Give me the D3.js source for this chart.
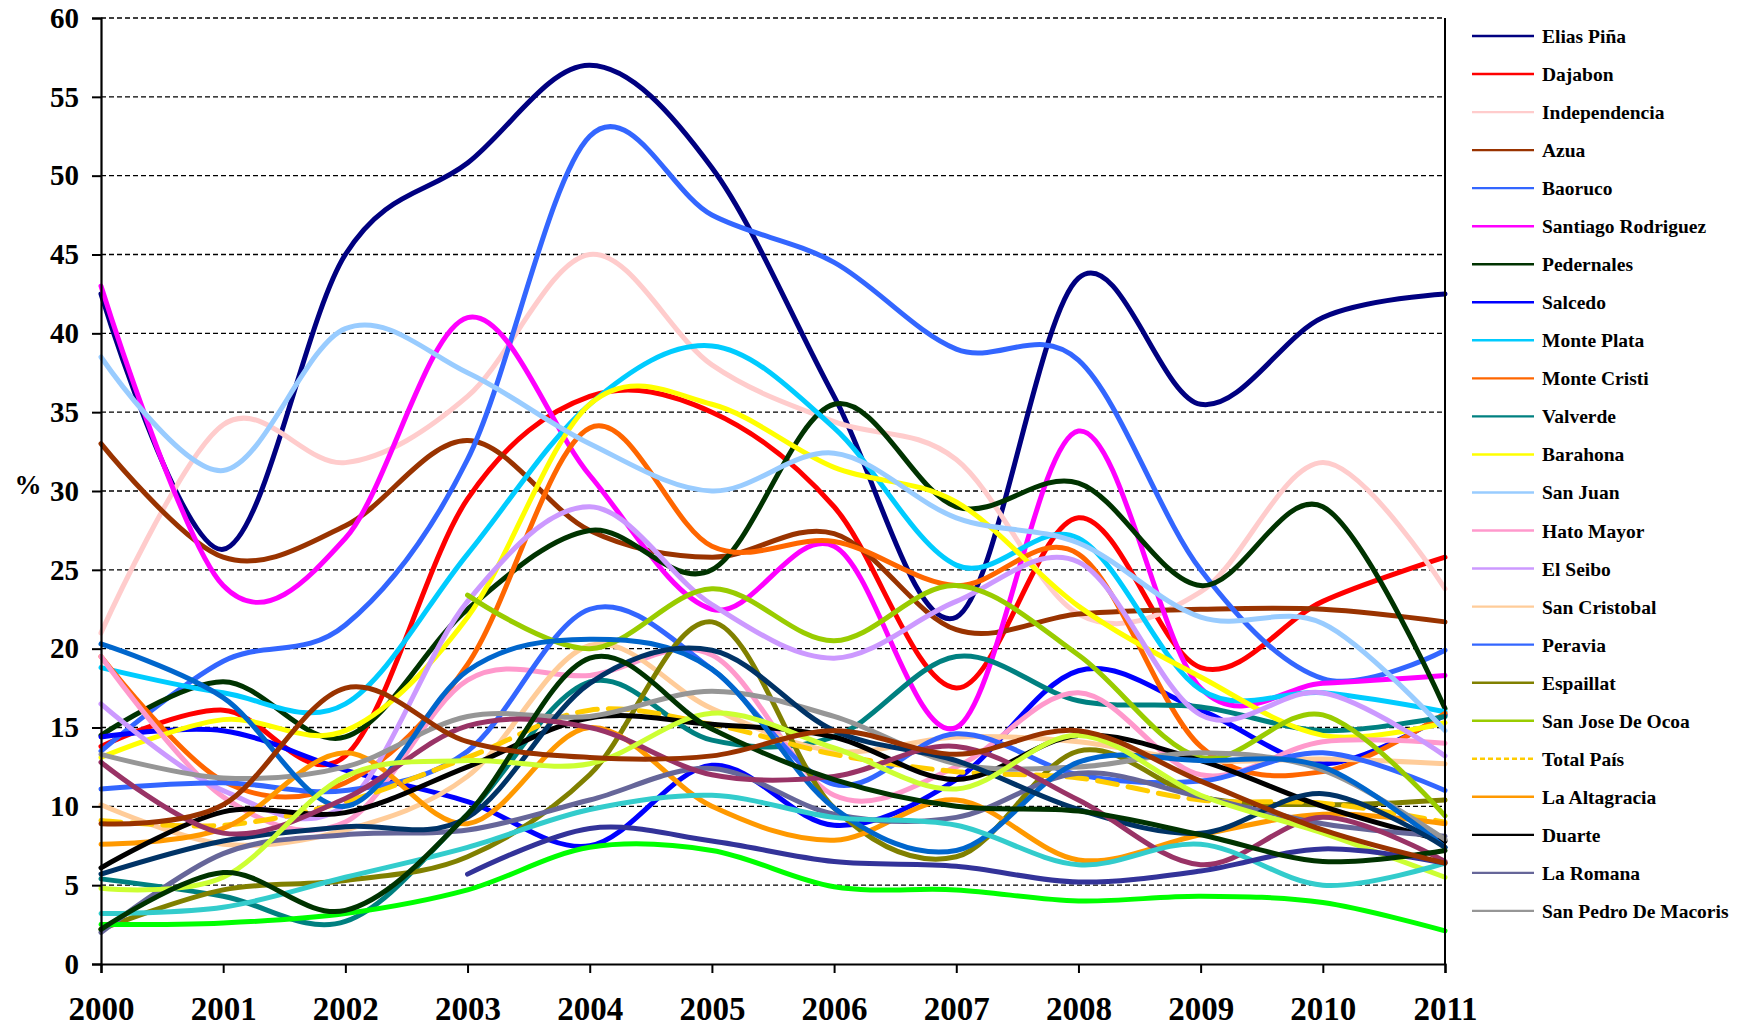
<!DOCTYPE html>
<html>
<head>
<meta charset="utf-8">
<script src="https://cdn.jsdelivr.net/npm/d3@7"></script>
<style>
  html, body { margin: 0; padding: 0; background: #fff; }
  svg { display: block; }
  text { font-family: "Liberation Serif", "Times New Roman", serif; font-weight: bold; fill: #000; }
</style>
</head>
<body>
<svg id="chart" width="1745" height="1028"></svg>
<script>
// Years on the horizontal axis and the percentage ticks on the vertical one
const years = [2000, 2001, 2002, 2003, 2004, 2005, 2006, 2007, 2008, 2009, 2010, 2011];
const yTicks = [0, 5, 10, 15, 20, 25, 30, 35, 40, 45, 50, 55, 60];

// Provinces with their yearly percentage (legend order)
const eliasPina         = [42.5, 26.3, 45.0, 50.8, 57.0, 50.5, 36.0, 22.0, 43.5, 35.5, 41.0, 42.5];
const dajabon           = [13.8, 16.1, 13.2, 29.5, 36.0, 35.0, 29.0, 17.5, 28.3, 18.8, 23.0, 25.8];
const independencia     = [21.0, 34.2, 31.8, 36.0, 45.0, 38.0, 34.4, 32.0, 22.2, 23.6, 31.8, 23.8];
const azua              = [33.0, 25.8, 27.8, 33.2, 27.5, 25.8, 27.3, 21.2, 22.2, 22.5, 22.5, 21.7];
const baoruco           = [13.5, 19.2, 21.5, 32.0, 52.5, 47.5, 44.5, 39.0, 38.3, 25.0, 18.1, 19.9];
const santiagoRodriguez = [43.0, 24.0, 27.0, 41.0, 31.0, 22.5, 26.5, 15.0, 33.8, 17.5, 17.8, 18.3];
const pedernales        = [14.5, 17.9, 14.4, 22.5, 27.5, 25.0, 35.5, 29.0, 30.5, 24.0, 29.0, 16.2];
const salcedo           = [14.4, 14.8, 12.3, 10.3, 7.5, 12.6, 8.8, 11.7, 18.6, 16.1, 12.7, 15.8];
const montePlata        = [18.8, 17.2, 16.5, 26.0, 35.5, 39.2, 34.0, 25.3, 27.0, 17.4, 17.2, 16.0];
const monteCristi       = [19.5, 11.6, 11.5, 19.0, 34.0, 26.5, 26.8, 24.0, 26.0, 13.8, 12.2, 15.9];
const valverde          = [5.4, 4.3, 2.7, 9.5, 17.9, 14.2, 14.4, 19.5, 16.7, 16.3, 14.8, 15.7];
const barahona          = [13.1, 15.5, 14.8, 22.0, 35.5, 35.5, 31.5, 29.3, 22.7, 18.2, 14.5, 15.3];
const sanJuan           = [38.5, 31.3, 40.3, 37.5, 33.0, 30.0, 32.4, 28.3, 26.7, 22.0, 21.6, 14.8];
const hatoMayor         = [19.5, 10.6, 9.0, 18.0, 18.3, 19.6, 10.7, 12.5, 17.2, 12.0, 14.1, 14.0];
const elSeibo           = [16.5, 11.0, 10.1, 23.0, 29.0, 22.8, 19.4, 23.0, 25.5, 15.8, 17.2, 13.2];
const sanCristobal      = [10.1, 7.6, 8.5, 11.9, 20.2, 16.2, 13.5, 14.4, 14.1, 12.9, 13.0, 12.7];
const peravia           = [11.1, 11.5, 11.0, 13.5, 22.5, 18.7, 11.4, 14.6, 12.0, 11.6, 13.4, 11.0];
const espaillat         = [2.2, 4.7, 5.3, 6.8, 12.0, 21.7, 9.9, 6.8, 13.5, 10.6, 10.1, 10.4];
const sanJoseDeOcoa     = [null, null, null, 23.4, 20.0, 23.8, 20.5, 24.0, 19.6, 13.1, 15.8, 9.4];
const totalPais         = [9.1, 8.8, 10.3, 13.1, 16.1, 15.2, 13.3, 12.2, 11.8, 10.4, 10.2, 9.0];
const laAltagracia      = [7.6, 8.6, 13.4, 8.9, 15.0, 10.0, 7.85, 10.4, 6.6, 8.2, 9.5, 8.9];
const duarte            = [6.1, 9.65, 9.6, 12.5, 15.6, 15.2, 14.4, 11.7, 14.5, 12.9, 10.0, 7.8];
const laRomana          = [2.0, 7.0, 8.2, 8.5, 10.4, 12.4, 9.5, 9.3, 12.1, 10.6, 8.9, 8.1];
const sanPedroDeMacoris = [13.3, 11.8, 12.5, 15.7, 15.7, 17.3, 15.7, 12.7, 12.5, 13.4, 12.3, 7.9];

// Further series plotted after the listed ones (they do not fit in the legend box)
const serie25 = [20.3, 16.9, 10.0, 18.6, 20.6, 18.7, 9.9, 7.2, 12.8, 12.9, 12.5, 7.4];
const serie26 = [5.7, 7.8, 8.7, 9.3, 17.8, 19.9, 14.8, 12.9, 9.8, 8.3, 10.8, 7.4];
const serie27 = [12.8, 8.3, 10.5, 15.1, 15.0, 12.0, 11.9, 13.8, 10.4, 6.3, 9.3, 6.5];
const serie28 = [4.8, 5.5, 11.9, 12.9, 12.7, 15.9, 13.7, 11.1, 14.5, 10.7, 8.3, 5.5];
const serie29 = [3.2, 3.6, 5.5, 7.4, 9.8, 10.7, 9.3, 8.8, 6.3, 7.6, 5.0, 6.4];
const serie30 = [2.5, 2.6, 3.2, 4.7, 7.4, 7.2, 4.9, 4.7, 4.0, 4.3, 3.9, 2.1];
const serie31 = [null, null, null, 5.7, 8.6, 7.8, 6.5, 6.2, 5.2, 5.9, 7.3, 6.4];
const serie32 = [2.2, 5.8, 3.4, 9.5, 19.4, 14.9, 11.7, 10.0, 9.7, 8.2, 6.5, 7.2];
const serie33 = [8.9, 10.1, 17.5, 14.1, 13.1, 13.2, 14.8, 13.3, 14.8, 11.6, 8.5, 6.4];

const legendNames = ["Elias Piña", "Dajabon", "Independencia", "Azua", "Baoruco", "Santiago Rodriguez",
  "Pedernales", "Salcedo", "Monte Plata", "Monte Cristi", "Valverde", "Barahona", "San Juan",
  "Hato Mayor", "El Seibo", "San Cristobal", "Peravia", "Espaillat", "San Jose De Ocoa",
  "Total País", "La Altagracia", "Duarte", "La Romana", "San Pedro De Macoris"];
const legendValues = [eliasPina, dajabon, independencia, azua, baoruco, santiagoRodriguez,
  pedernales, salcedo, montePlata, monteCristi, valverde, barahona, sanJuan, hatoMayor, elSeibo,
  sanCristobal, peravia, espaillat, sanJoseDeOcoa, totalPais, laAltagracia, duarte, laRomana,
  sanPedroDeMacoris];
const legendColors = ["#000080", "#FF0000", "#FFCCCC", "#993300", "#3366FF", "#FF00FF",
  "#003300", "#0000FF", "#00CCFF", "#FF6600", "#008080", "#FFFF00", "#99CCFF", "#FF99CC",
  "#CC99FF", "#FFCC99", "#3366FF", "#808000", "#99CC00", "#FFCC00", "#FF9900", "#000000",
  "#666699", "#969696"];

const extraValues = [serie25, serie26, serie27, serie28, serie29, serie30, serie31, serie32, serie33];
const extraColors = ["#0066CC", "#003366", "#993366", "#CCFF33", "#33CCCC", "#00FF00", "#333399", "#003300", "#993300"];

const series = legendNames.map((name, i) => ({
  name, color: legendColors[i], values: legendValues[i], dashed: name === "Total País", inLegend: true
})).concat(extraValues.map((v, i) => ({
  name: null, color: extraColors[i], values: v, dashed: false, inLegend: false
})));

const svg = d3.select("#chart");
svg.append("rect").attr("width", 1745).attr("height", 1028).attr("fill", "#fff");

const plot = { left: 101, right: 1445, top: 18, bottom: 964 };
const x = d3.scaleLinear().domain([2000, 2011]).range([plot.left, plot.right]);
const y = d3.scaleLinear().domain([0, 60]).range([plot.bottom, plot.top]);

// dashed horizontal gridlines
svg.append("g")
  .selectAll("line")
  .data(yTicks.filter(d => d > 0))
  .join("line")
  .attr("x1", plot.left).attr("x2", plot.right)
  .attr("y1", d => y(d)).attr("y2", d => y(d))
  .attr("stroke", "#000").attr("stroke-width", 1.3)
  .attr("stroke-dasharray", "5,3");

// smoothed lines
const line = d3.line()
  .defined(d => d.v !== null)
  .x(d => x(d.year))
  .y(d => y(d.v))
  .curve(d3.curveCardinal.tension(0));

svg.append("g")
  .selectAll("path")
  .data(series)
  .join("path")
  .attr("d", s => line(years.map((yr, i) => ({ year: yr, v: s.values[i] }))))
  .attr("fill", "none")
  .attr("stroke", s => s.color)
  .attr("stroke-width", 5)
  .attr("stroke-linejoin", "round")
  .attr("stroke-linecap", "round")
  .attr("stroke-dasharray", s => s.dashed ? "20,11" : null);

// right border of the plot area
svg.append("line")
  .attr("x1", plot.right).attr("x2", plot.right)
  .attr("y1", plot.top).attr("y2", plot.bottom)
  .attr("stroke", "#000").attr("stroke-width", 2);

// axes
const yAxis = d3.axisLeft(y).tickValues(yTicks).tickSize(9).tickPadding(13).tickFormat(d3.format("d"));
const gy = svg.append("g").attr("transform", `translate(${plot.left},0)`).call(yAxis);
gy.select(".domain").attr("stroke", "#000").attr("stroke-width", 2.2);
gy.selectAll(".tick line").attr("stroke", "#000").attr("stroke-width", 2);
gy.selectAll(".tick text").style("font-size", "29px").attr("fill", "#000")
  .style("font-family", "'Liberation Serif', 'Times New Roman', serif").style("font-weight", "bold");

const xAxis = d3.axisBottom(x).tickValues(years).tickSize(9).tickPadding(24).tickFormat(d3.format("d"));
const gx = svg.append("g").attr("transform", `translate(0,${plot.bottom})`).call(xAxis);
gx.select(".domain").attr("stroke", "#000").attr("stroke-width", 2.2);
gx.selectAll(".tick line").attr("stroke", "#000").attr("stroke-width", 2);
gx.selectAll(".tick text").style("font-size", "33px").attr("fill", "#000")
  .style("font-family", "'Liberation Serif', 'Times New Roman', serif").style("font-weight", "bold");

// unit label
svg.append("text")
  .attr("x", 28).attr("y", 494)
  .attr("text-anchor", "middle")
  .style("font-size", "27px")
  .text("%");

// legend
const legend = svg.append("g").attr("transform", "translate(1472,36)");
const rows = legend.selectAll("g")
  .data(series.filter(s => s.inLegend))
  .join("g")
  .attr("transform", (d, i) => `translate(0,${i * 38.04})`);
rows.append("line")
  .attr("x1", 0).attr("x2", 62).attr("y1", 0).attr("y2", 0)
  .attr("stroke", d => d.color).attr("stroke-width", 2.4)
  .attr("stroke-dasharray", d => d.dashed ? "5,3" : null);
rows.append("text")
  .attr("x", 70).attr("y", 7)
  .style("font-size", "19.5px")
  .text(d => d.name);
</script>
</body>
</html>
